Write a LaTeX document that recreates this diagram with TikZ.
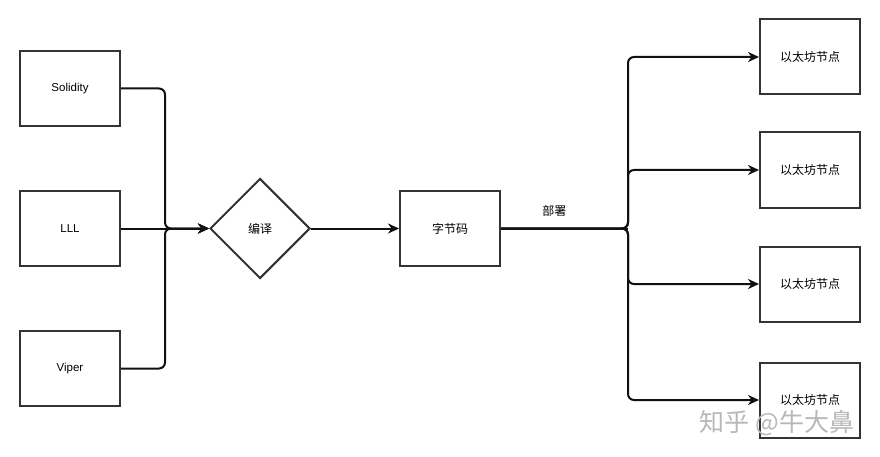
\documentclass[tikz,border=0pt]{standalone}
\usepackage{fontspec}
\setmainfont{Liberation Sans}
\newfontfamily\cjk{Noto Sans CJK SC}
\usetikzlibrary{positioning,arrows.meta,shapes.geometric}
\definecolor{edge}{HTML}{333333}
\definecolor{wire}{HTML}{111111}

\begin{document}
\begin{tikzpicture}[x=1pt,y=-1pt,
    lang/.style={rectangle,draw=edge,line width=2pt,fill=white,
		minimum width=100pt,minimum height=75pt,font=\fontsize{11.5}{13}\selectfont},
    ethbox/.style={lang,font=\fontsize{12}{14}\selectfont\cjk},
    compile/.style={diamond,draw=edge,line width=2pt,fill=white,inner sep=0pt,
		minimum width=100pt,minimum height=100pt,font=\fontsize{12}{14}\selectfont\cjk},
% Wire style
    wire/.style={draw=wire,line width=2pt,rounded corners=6pt,
		>={Stealth[length=11pt,width=10pt,inset=3.5pt]}},
    ]
   \useasboundingbox [fill=white] (0,0) rectangle (880,457);
%%% Source languages
   \node [lang] (sol) at (70,88.5) {Solidity};
   \node [lang] (lll) at (70,228.5) {LLL};
   \node [lang] (vip) at (70,368.5) {Viper};
%%% Compiler and bytecode
   \node [compile] (comp) at (260,228.5) {编译};
   \node [ethbox] (code) at (450,228.5) {字节码};
%%% Ethereum nodes
   \node [ethbox] (eth1) at (810,57) {以太坊节点};
   \node [ethbox] (eth2) at (810,170) {以太坊节点};
   \node [ethbox] (eth3) at (810,284) {以太坊节点};
   \node [ethbox] (eth4) at (810,400) {以太坊节点};

   \coordinate (jleft) at (165,228.5);
   \coordinate (jright) at (628,228.5);

   \draw [wire,->] (sol.east) -| (jleft) -- (comp.west);
   \draw [wire,->] (vip.east) -| (jleft) -- (comp.west);
   \draw [wire,->] (lll.east) -- (comp.west);

   \draw [wire,->] (comp.east) -- (code.west);

   \draw [wire] (code.east) -- (jright)
       node [pos=0.42,above=8pt,text=black,font=\fontsize{12}{14}\selectfont\cjk] (deploy) {部署};
   \draw [wire,->] (code.east) -- (jright) |- (eth1.west);
   \draw [wire,->] (code.east) -- (jright) |- (eth2.west);
   \draw [wire,->] (code.east) -- (jright) |- (eth3.west);
   \draw [wire,->] (code.east) -- (jright) |- (eth4.west);

%%% Watermark
   \node [text=black!28,font=\fontsize{25}{28}\selectfont\cjk] (mark) at (777,423) {知乎 @牛大鼻};
\end{tikzpicture}
\end{document}
